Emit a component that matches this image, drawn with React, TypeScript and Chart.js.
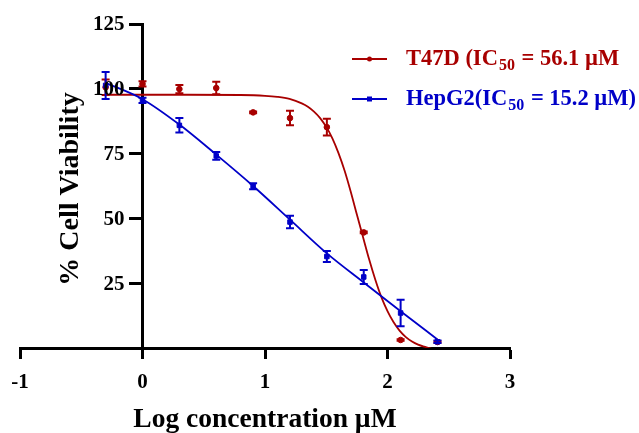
import React, { useEffect, useRef } from "react";
import { Chart, registerables } from "chart.js";

Chart.register(...registerables);

// ---- data ----
const logConcentration = [-0.301, 0, 0.301, 0.602, 0.903, 1.204, 1.505, 1.806, 2.107, 2.408];
const t47dViability = [100.6, 101.9, 99.9, 100.3, 90.9, 88.7, 85.2, 44.6, 3.1, 2.3];
const t47dError = [3.0, 1.0, 1.6, 2.4, 0.3, 2.8, 3.2, 0.3, 0.3, 0.3];
const hepg2Viability = [101.3, 95.5, 85.9, 74.1, 62.4, 48.6, 35.3, 27.4, 13.5, 2.4];
const hepg2Error = [5.2, 1.0, 2.8, 1.5, 1.2, 2.4, 2.1, 2.7, 5.1, 0.5];

// fitted curves
const t47dFitX = [-0.301, 0.3, 0.8, 1.0, 1.1, 1.2, 1.3, 1.35, 1.4, 1.45, 1.5, 1.55, 1.6, 1.65, 1.7, 1.75, 1.8, 1.85, 1.9, 1.95, 2.0, 2.05, 2.1, 2.15, 2.2, 2.25, 2.3, 2.34, 2.37];
const t47dFitY = [97.7, 97.7, 97.6, 97.3, 96.9, 96.1, 94.4, 93.1, 91.2, 88.7, 85.3, 80.9, 75.2, 68.4, 60.3, 51.5, 42.8, 34.2, 26.4, 19.6, 14.2, 9.9, 6.6, 4.2, 2.5, 1.3, 0.5, 0.0, -0.5];
const hepg2FitX = [-0.301, 0, 0.301, 0.602, 0.903, 1.204, 1.505, 1.806, 2.107, 2.408];
const hepg2FitY = [102.3, 96.0, 86.2, 74.6, 62.5, 49.5, 36.5, 25.3, 14.2, 3.3];

const xTicks = [-1, 0, 1, 2, 3];
const yTicks = [25, 50, 75, 100, 125];
const xAxisTitle = "Log concentration µM";
const yAxisTitle = "% Cell Viability";
const legendT47D = ["T47D (IC", "50", " = 56.1 µM"];
const legendHepG2 = ["HepG2(IC", "50", " = 15.2 µM)"];

const RED = "#a80000";
const BLUE = "#0000c8";
const FONT = '"Liberation Serif", "Times New Roman", serif';

const errorBarPlugin = {
  id: "errorBars",
  afterDatasetsDraw(chart: any) {
    const ctx = chart.ctx;
    const xs = chart.scales.x;
    const ys = chart.scales.y;
    chart.data.datasets.forEach((ds: any) => {
      if (!ds.errors) return;
      ctx.save();
      ctx.strokeStyle = ds.borderColor;
      ctx.lineWidth = 2;
      ds.data.forEach((p: any, j: number) => {
        const e = ds.errors[j];
        const px = xs.getPixelForValue(p.x);
        const y1 = ys.getPixelForValue(p.y + e);
        const y2 = ys.getPixelForValue(p.y - e);
        ctx.beginPath();
        ctx.moveTo(px, y1);
        ctx.lineTo(px, y2);
        ctx.moveTo(px - 4, y1);
        ctx.lineTo(px + 4, y1);
        ctx.moveTo(px - 4, y2);
        ctx.lineTo(px + 4, y2);
        ctx.stroke();
      });
      ctx.restore();
    });
  },
};

function drawRich(ctx: any, x: number, y: number, parts: string[], size: number, subSize: number, color: string) {
  ctx.fillStyle = color;
  ctx.textBaseline = "alphabetic";
  ctx.textAlign = "left";
  ctx.font = `bold ${size}px ${FONT}`;
  ctx.fillText(parts[0], x, y);
  let cx = x + ctx.measureText(parts[0]).width + 1;
  ctx.font = `bold ${subSize}px ${FONT}`;
  ctx.fillText(parts[1], cx, y + 4.5);
  cx += ctx.measureText(parts[1]).width + 1;
  ctx.font = `bold ${size}px ${FONT}`;
  ctx.fillText(parts[2], cx, y);
}

const annotationPlugin = {
  id: "customLegendAndTitles",
  afterDraw(chart: any) {
    const ctx = chart.ctx;
    const xs = chart.scales.x;
    const ys = chart.scales.y;
    ctx.save();
    // legend
    const items = [
      { y: 59, color: RED, parts: legendT47D, marker: "circle" },
      { y: 99, color: BLUE, parts: legendHepG2, marker: "rect" },
    ];
    items.forEach((it) => {
      ctx.strokeStyle = it.color;
      ctx.fillStyle = it.color;
      ctx.lineWidth = 1.8;
      ctx.beginPath();
      ctx.moveTo(352, it.y);
      ctx.lineTo(387, it.y);
      ctx.stroke();
      if (it.marker === "circle") {
        ctx.beginPath();
        ctx.arc(369.5, it.y, 2.5, 0, Math.PI * 2);
        ctx.fill();
      } else {
        ctx.fillRect(367, it.y - 2.5, 5, 5);
      }
      drawRich(ctx, 406, it.y + 6, it.parts, 22.5, 16, it.color);
    });
    // y tick labels (left of the y axis that sits at x = 0)
    const axisX = xs.getPixelForValue(0);
    ctx.fillStyle = "#000";
    ctx.font = `bold 21px ${FONT}`;
    ctx.textAlign = "right";
    ctx.textBaseline = "middle";
    yTicks.forEach((v) => {
      ctx.fillText(String(v), axisX - 18, ys.getPixelForValue(v) + 1);
    });
    // x axis title
    ctx.font = `bold 27.5px ${FONT}`;
    ctx.textAlign = "center";
    ctx.textBaseline = "alphabetic";
    ctx.fillText(xAxisTitle, (xs.left + xs.right) / 2, 427);
    // y axis title
    ctx.translate(78, 189);
    ctx.rotate(-Math.PI / 2);
    ctx.font = `bold 28px ${FONT}`;
    ctx.textAlign = "center";
    ctx.textBaseline = "alphabetic";
    ctx.fillText(yAxisTitle, 0, 0);
    ctx.restore();
  },
};

export default function App() {
  const ref = useRef<HTMLCanvasElement>(null);
  useEffect(() => {
    if (!ref.current) return;
    const pts = (xs: number[], ys: number[]) => xs.map((x, i) => ({ x, y: ys[i] }));
    const chart = new Chart(ref.current, {
      type: "scatter",
      data: {
        datasets: [
          {
            label: "T47D points",
            data: pts(logConcentration, t47dViability),
            errors: t47dError,
            borderColor: RED,
            backgroundColor: RED,
            pointRadius: 2.8,
            pointStyle: "circle",
            showLine: false,
            order: 1,
          } as any,
          {
            label: "HepG2 points",
            data: pts(logConcentration, hepg2Viability),
            errors: hepg2Error,
            borderColor: BLUE,
            backgroundColor: BLUE,
            pointRadius: 3.2,
            pointStyle: "rect",
            showLine: false,
            order: 0,
          } as any,
          {
            label: "T47D fit",
            data: pts(t47dFitX, t47dFitY),
            borderColor: RED,
            backgroundColor: RED,
            borderWidth: 1.8,
            pointRadius: 0,
            showLine: true,
            cubicInterpolationMode: "monotone",
            order: 3,
          } as any,
          {
            label: "HepG2 fit",
            data: pts(hepg2FitX, hepg2FitY),
            borderColor: BLUE,
            backgroundColor: BLUE,
            borderWidth: 1.8,
            pointRadius: 0,
            showLine: true,
            cubicInterpolationMode: "monotone",
            order: 2,
          } as any,
        ],
      },
      options: {
        animation: false,
        responsive: false,
        devicePixelRatio: 1,
        layout: { padding: { left: 20, right: 129, top: 24, bottom: 0 } },
        plugins: { legend: { display: false }, tooltip: { enabled: false } },
        scales: {
          x: {
            type: "linear",
            position: "bottom",
            min: -1,
            max: 3,
            afterBuildTicks: (s: any) => {
              s.ticks = xTicks.map((v) => ({ value: v }));
            },
            afterFit: (s: any) => {
              s.height = 85;
            },
            ticks: {
              color: "#000",
              font: { family: FONT, weight: "bold", size: 21 },
              padding: 11,
            },
            grid: {
              drawOnChartArea: false,
              drawTicks: true,
              tickLength: 11,
              tickWidth: 3,
              tickColor: "#000",
            },
            border: { display: true, width: 3, color: "#000" },
          },
          y: {
            type: "linear",
            position: { x: 0 } as any,
            min: 0,
            max: 125,
            afterBuildTicks: (s: any) => {
              s.ticks = yTicks.map((v) => ({ value: v }));
            },
            ticks: { display: false },
            grid: {
              drawOnChartArea: false,
              drawTicks: true,
              tickLength: 12,
              tickWidth: 3,
              tickColor: "#000",
            },
            border: { display: true, width: 3, color: "#000" },
          },
        },
      } as any,
      plugins: [errorBarPlugin, annotationPlugin],
    });
    return () => chart.destroy();
  }, []);
  return (
    <div style={{ position: "fixed", left: 0, top: 0, width: 639, height: 433, background: "#fff" }}>
      <canvas ref={ref} width={639} height={433} style={{ display: "block" }} />
    </div>
  );
}
